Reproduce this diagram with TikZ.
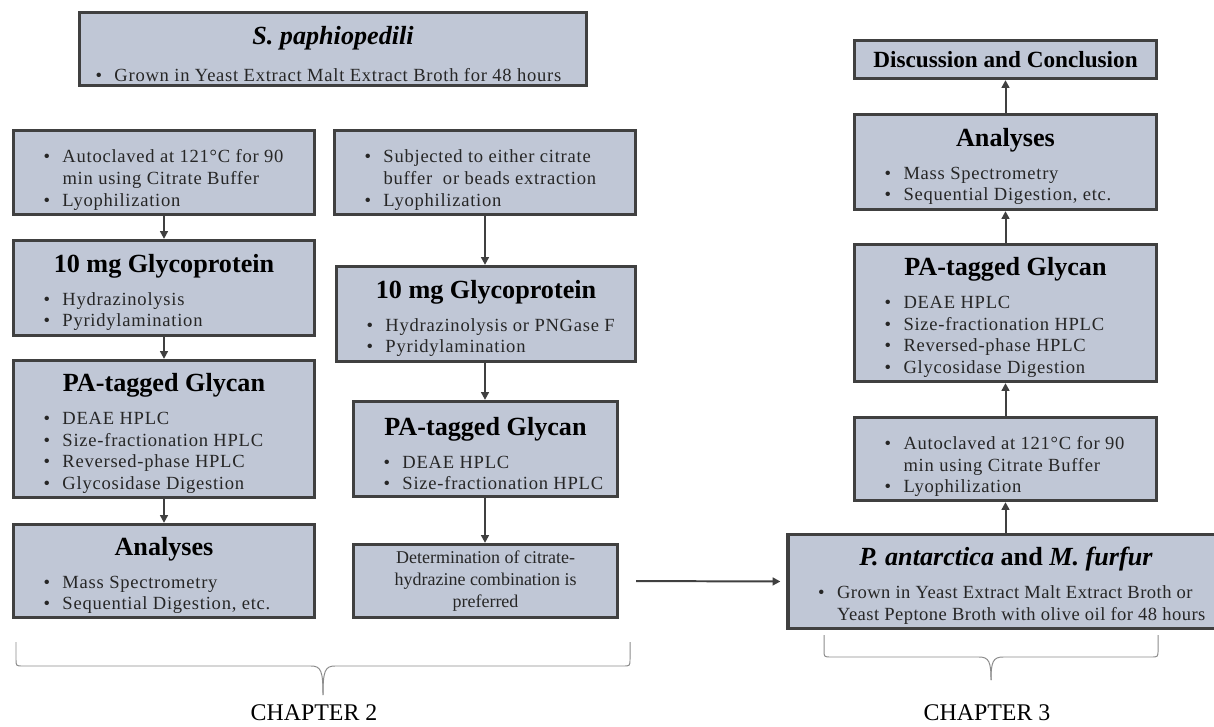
\documentclass[tikz,border=0pt]{standalone}
\usepackage{fontspec}
\setmainfont{Liberation Serif}
\newfontfamily\spacedfam[LetterSpace=4]{Liberation Serif}
\newfontfamily\tightfam[LetterSpace=2.5]{Liberation Serif}
\usetikzlibrary{arrows.meta}
\newlength\px \setlength\px{0.025cm}
\definecolor{boxfill}{HTML}{C0C7D6}
\definecolor{boxline}{HTML}{404040}
\definecolor{bodytext}{HTML}{262626}
\definecolor{bracecol}{HTML}{8C8C8C}
\newcommand\bodyfont{\spacedfam\fontsize{13.2}{15.4}\selectfont}
\newcommand\plainfont{\fontsize{12.8}{15.4}\selectfont}
\newcommand\titlefont{\fontsize{18.6}{21}\selectfont\bfseries}
\newcommand\bitem[1]{\par\noindent\llap{\makebox[19\px][l]{•}}#1}
\newcommand\tbox[3]{\begin{minipage}{#1\px}\vspace*{6.4pt}{\centering\titlefont #2\par}\vspace{8pt}\raggedright\leftskip=49\px\bodyfont\color{bodytext}#3\par\end{minipage}}
\newcommand\lbox[2]{\begin{minipage}{#1\px}\vspace*{10.7pt}\raggedright\leftskip=49\px\bodyfont\color{bodytext}#2\par\end{minipage}}
\tikzset{
  stagebox/.style={draw=boxline, fill=boxfill, line width=2.3pt, rectangle, inner sep=0pt},
  arr/.style={draw=boxline, line width=1.4pt, -{Triangle[length=5.5pt,width=5.5pt]}},
  bracepath/.style={draw=bracecol, line width=0.7pt},
  chapter/.style={font=\fontsize{17}{20}\selectfont, text=black}
}
\begin{document}
\begin{tikzpicture}[x=0.025cm, y=-0.025cm]
\path[use as bounding box, fill=white] (0,0) rectangle (1214,727);

% top box
\node[stagebox, minimum width=507\px, minimum height=73\px] (S) at (333,49)
  {\begin{minipage}{507\px}\vspace*{7pt}{\centering\titlefont\itshape S. paphiopedili\par}\vspace{10.9pt}\raggedright\leftskip=35\px\bodyfont\color{bodytext}\bitem{\mbox{Grown in Yeast Extract Malt Extract Broth for 48 hours}}\par\end{minipage}};

% left column
\node[stagebox, minimum width=301\px, minimum height=84\px] (L1) at (164,172.5)
  {\lbox{301}{\bitem{Autoclaved at 121°C for 90\\min using Citrate Buffer}\bitem{Lyophilization}}};
\node[stagebox, minimum width=301\px, minimum height=95\px] (L2) at (164,288)
  {\tbox{301}{10 mg Glycoprotein}{\bitem{Hydrazinolysis}\bitem{Pyridylamination}}};
\node[stagebox, minimum width=301\px, minimum height=137\px] (L3) at (164,429)
  {\tbox{301}{PA-tagged Glycan}{\bitem{DEAE HPLC}\bitem{Size-fractionation HPLC}\bitem{Reversed-phase HPLC}\bitem{Glycosidase Digestion}}};
\node[stagebox, minimum width=301\px, minimum height=93\px] (L4) at (164,571)
  {\tbox{301}{Analyses}{\bitem{Mass Spectrometry}\bitem{Sequential Digestion, etc.}}};

% middle column
\node[stagebox, minimum width=301\px, minimum height=84\px] (M1) at (485,172.5)
  {\lbox{301}{\bitem{Subjected to either citrate\\buffer~ or beads extraction}\bitem{Lyophilization}}};
\node[stagebox, minimum width=299\px, minimum height=95\px] (M2) at (486,314)
  {\tbox{299}{10 mg Glycoprotein}{\bitem{Hydrazinolysis or PNGase F}\bitem{Pyridylamination}}};
\node[stagebox, minimum width=264\px, minimum height=95\px] (M3) at (485.5,449)
  {\tbox{264}{PA-tagged Glycan}{\bitem{DEAE HPLC}\bitem{Size-fractionation HPLC}}};
\node[stagebox, minimum width=264\px, minimum height=73\px, align=center, font=\plainfont, text=bodytext] (M4) at (485.5,581)
  {Determination of citrate-\\hydrazine combination is\\preferred};

% right column
\node[stagebox, minimum width=302\px, minimum height=38\px, font=\fontsize{16.5}{19}\selectfont\bfseries] (D) at (1005.5,59.5)
  {Discussion and Conclusion};
\node[stagebox, minimum width=302\px, minimum height=95\px] (RAn) at (1005.5,162)
  {\tbox{302}{Analyses}{\bitem{Mass Spectrometry}\bitem{Sequential Digestion, etc.}}};
\node[stagebox, minimum width=302\px, minimum height=137\px] (RPA) at (1005.5,313)
  {\tbox{302}{PA-tagged Glycan}{\bitem{DEAE HPLC}\bitem{Size-fractionation HPLC}\bitem{Reversed-phase HPLC}\bitem{Glycosidase Digestion}}};
\node[stagebox, minimum width=302\px, minimum height=83\px] (RAut) at (1005.5,459)
  {\lbox{302}{\bitem{Autoclaved at 121°C for 90\\min using Citrate Buffer}\bitem{Lyophilization}}};
\node[stagebox, minimum width=436\px, minimum height=94\px] (P) at (1006,581.5)
  {\tbox{436}{{\itshape P. antarctica} and {\itshape M. furfur}}{\bitem{\tightfam Grown in Yeast Extract Malt Extract Broth or\\Yeast Peptone Broth with olive oil for 48 hours}}};

% connectors
\draw[arr] (L1.south) -- (L2.north);
\draw[arr] (L2.south) -- (L3.north);
\draw[arr] (L3.south) -- (L4.north);
\draw[arr] (M1.south) -- (M1.south |- M2.north);
\draw[arr] (M2.south -| M1.south) -- (M3.north -| M1.south);
\draw[arr] (M3.south -| M1.south) -- (M4.north -| M1.south);
\draw[arr, shorten <=17\px, shorten >=6\px] (M4.east) -- (P.west);
\draw[arr] (P.north -| RAut.south) -- (RAut.south);
\draw[arr] (RAut.north) -- (RPA.south);
\draw[arr] (RPA.north) -- (RAn.south);
\draw[arr] (RAn.north) -- (D.south);

% braces
\coordinate (B2tip) at (323,695);
\coordinate (B3tip) at (991,680);
\draw[bracepath] (16,642) -- (16,659) .. controls (16,666) .. (23,666) -- (311,666) .. controls (321,666) and (323,671) .. (B2tip);
\draw[bracepath] (630,642) -- (630,659) .. controls (630,666) .. (623,666) -- (335,666) .. controls (325,666) and (323,671) .. (B2tip);
\draw[bracepath] (824,635) -- (824,650) .. controls (824,657) .. (831,657) -- (979,657) .. controls (989,657) and (991,662) .. (B3tip);
\draw[bracepath] (1158,635) -- (1158,650) .. controls (1158,657) .. (1151,657) -- (1003,657) .. controls (993,657) and (991,662) .. (B3tip);

\node[chapter] (C2) at (314,713) {CHAPTER 2};
\node[chapter] (C3) at (987,713) {CHAPTER 3};
\end{tikzpicture}
\end{document}
